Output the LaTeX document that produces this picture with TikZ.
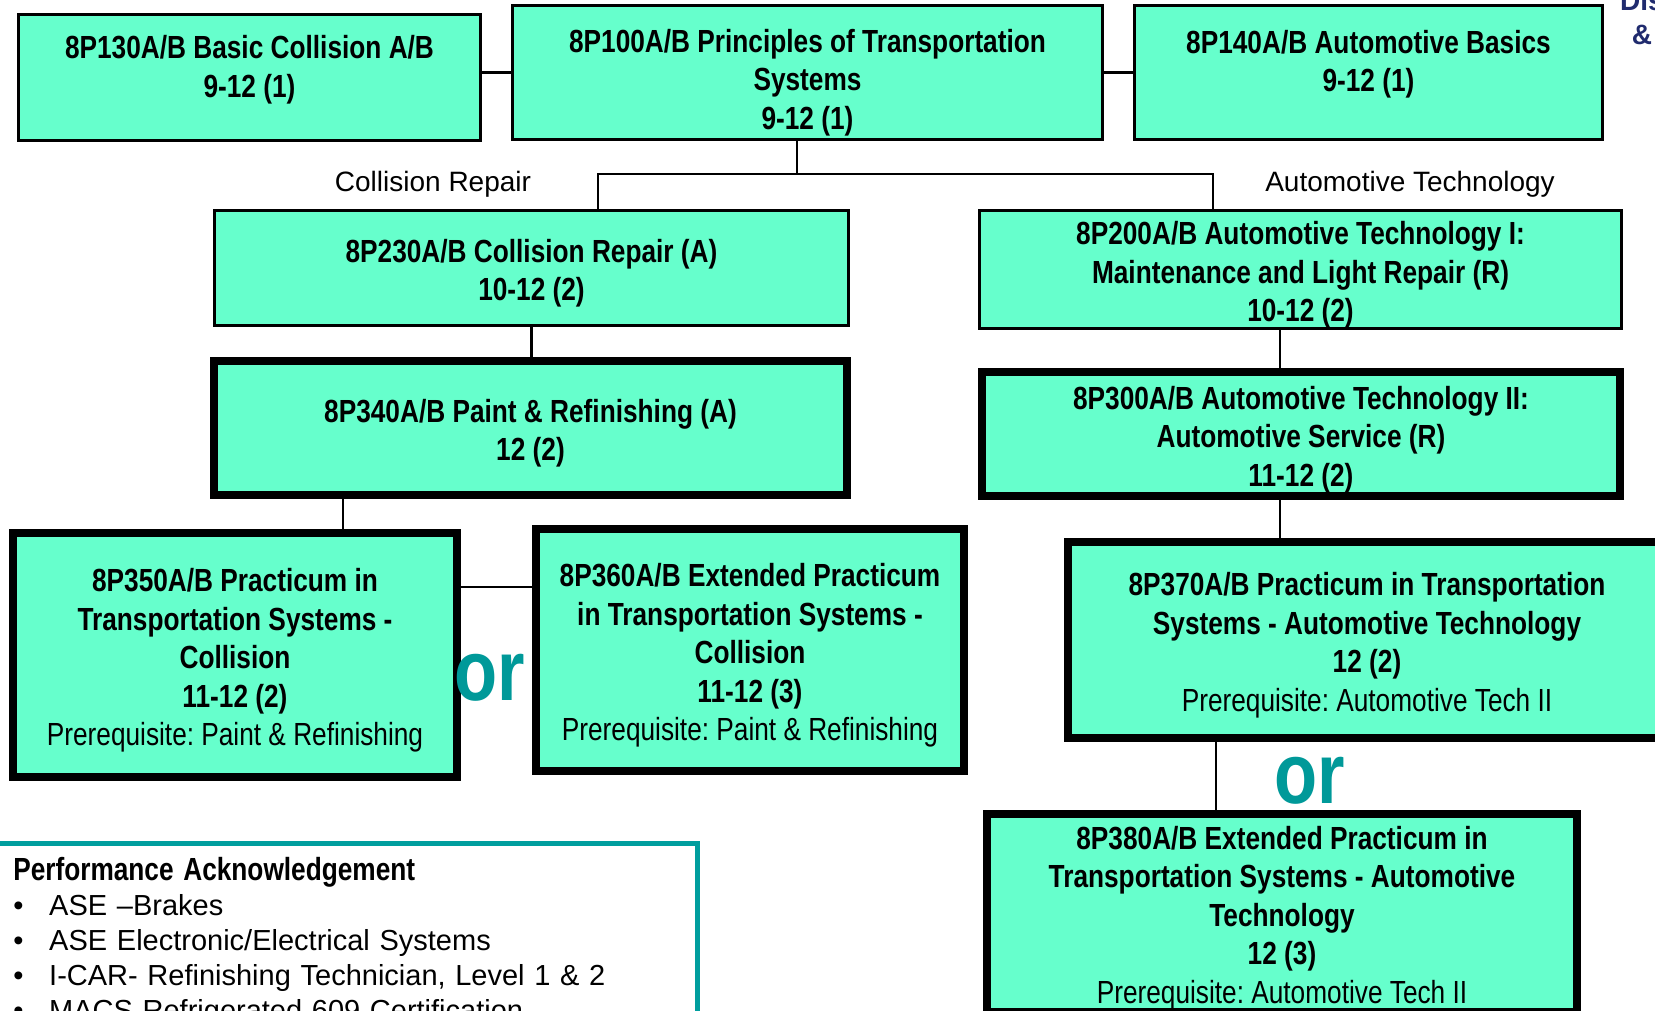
\documentclass[tikz,border=0pt]{standalone}
\usepackage{fontspec}
\setmainfont{Liberation Sans}
\newfontfamily\narrowfont{Liberation Sans}[FakeStretch=0.82]
\frenchspacing
\definecolor{courseGreen}{RGB}{102,255,204}
\definecolor{orTeal}{RGB}{0,153,153}
\definecolor{paTeal}{RGB}{0,158,158}
\definecolor{titleNavy}{RGB}{32,43,110}
\newcommand{\perfItem}[1]{\makebox[36pt][l]{•}#1}
\newcommand{\boxstrut}{\rule{0pt}{34pt}}

\begin{document}
\begin{tikzpicture}[x=1pt, y=-1pt]
            % Set primary nodes
            \tikzset{
                courseNode/.style={
                        draw,
                        rectangle,
                        fill=courseGreen,
                        line width=3pt,
                        align=center,
                        inner sep=0pt,
                        font=\narrowfont\bfseries\fontsize{32}{38.5}\selectfont
                    }
            }
            \tikzset{
                capstoneNode/.style={
                        courseNode,
                        line width=8pt
                    }
            }
            \tikzset{
                perfNode/.style={
                        draw=paTeal,
                        rectangle,
                        line width=4.5pt,
                        align=left,
                        text width=663pt,
                        inner xsep=21pt,
                        inner ysep=14pt,
                        font=\fontsize{29}{35}\selectfont
                    }
            }
            \tikzset{
                trackLabel/.style={
                        font=\fontsize{28}{34}\selectfont
                    }
            }
            \tikzset{
                orLabel/.style={
                        text=orTeal,
                        inner sep=0pt,
                        font=\narrowfont\bfseries\fontsize{86}{86}\selectfont
                    }
            }
            % Configure lines
            \tikzset{link/.style={line width=2.5pt}}
            \useasboundingbox (0,0) rectangle (1655,1011);
            \clip (0,0) rectangle (1655,1011);
            % Placing nodes
            \node[courseNode, minimum width=462pt, minimum height=126pt, text depth=33pt](c130) at (249.5,77.5){\boxstrut 8P130A/B Basic Collision A/B\\9-12 (1)};
            \node[courseNode, minimum width=590pt, minimum height=134pt, text height=120pt](c100) at (807.5,72.5){8P100A/B Principles of Transportation\\Systems\\9-12 (1)};
            \node[courseNode, minimum width=468pt, minimum height=134pt, text depth=34pt](c140) at (1368.5,72.5){\boxstrut 8P140A/B Automotive Basics\\9-12 (1)};
            \node[trackLabel](colLabel) at (433,184.5){Collision Repair};
            \node[trackLabel](autoLabel) at (1410,184.5){Automotive Technology};
            \node[courseNode, minimum width=634pt, minimum height=115pt](c230) at (531.5,268){\boxstrut 8P230A/B Collision Repair (A)\\10-12 (2)};
            \node[courseNode, minimum width=642pt, minimum height=116pt](c200) at (1300.5,269.5){\boxstrut 8P200A/B Automotive Technology I:\\Maintenance and Light Repair (R)\\10-12 (2)};
            \node[capstoneNode, minimum width=633pt, minimum height=134pt](c340) at (530.5,428){\boxstrut 8P340A/B Paint \& Refinishing (A)\\12 (2)};
            \node[capstoneNode, minimum width=638pt, minimum height=124pt](c300) at (1301,434){\boxstrut 8P300A/B Automotive Technology II:\\Automotive Service (R)\\11-12 (2)};
            \node[capstoneNode, minimum width=444pt, minimum height=244pt](c350) at (235,655){\boxstrut 8P350A/B Practicum in\\Transportation Systems -\\Collision\\11-12 (2)\\{\mdseries Prerequisite: Paint \& Refinishing}};
            \node[capstoneNode, minimum width=428pt, minimum height=242pt](c360) at (750,650){\boxstrut 8P360A/B Extended Practicum\\in Transportation Systems -\\Collision\\11-12 (3)\\{\mdseries Prerequisite: Paint \& Refinishing}};
            \node[capstoneNode, minimum width=598pt, minimum height=196pt](c370) at (1367,640){\boxstrut 8P370A/B Practicum in Transportation\\Systems - Automotive Technology\\12 (2)\\{\mdseries Prerequisite: Automotive Tech II}};
            \node[capstoneNode, minimum width=590pt, minimum height=198pt](c380) at (1282,912.5){\boxstrut 8P380A/B Extended Practicum in\\Transportation Systems - Automotive\\Technology\\12 (3)\\{\mdseries Prerequisite: Automotive Tech II}};
            \node[orLabel](orCol) at (490,678){or};
            \node[orLabel](orAuto) at (1310,781){or};
            \node[perfNode, anchor=north west](perf) at (-10,841){{\narrowfont\bfseries\fontsize{32}{35}\selectfont Performance Acknowledgement}\\
                \perfItem{ASE –Brakes}\\
                \perfItem{ASE Electronic/Electrical Systems}\\
                \perfItem{I-CAR- Refinishing Technician, Level 1 \& 2}\\
                \perfItem{MACS Refrigerated 609 Certification}};
            \node[align=center, anchor=north, inner sep=0pt, text=titleNavy, font=\bfseries\fontsize{28}{34}\selectfont](dis) at (1642,-10){Dis\\\&};
            % Branch points
            \coordinate (trunk) at (797,174);
            \coordinate (colBranch) at (598,174);
            \coordinate (autoBranch) at (1213,174);
            \coordinate (colDrop) at (343,0);
            \coordinate (orLink) at (0,587);
            \coordinate (autoDrop) at (1280,0);
            \coordinate (capDrop) at (1216,0);
            % Draw lines
            \draw[link](c100.west -| c130.east) -- (c100.west);
            \draw[link](c100.east) -- (c140.west);
            \draw[link](c100.south -| trunk) -- (trunk);
            \draw[link](colBranch |- c230.north) |- (autoBranch) -- (autoBranch |- c200.north);
            \draw[link](c230.south) -- (c230.south |- c340.north);
            \draw[link](c340.south -| colDrop) -- (c350.north -| colDrop);
            \draw[link](c350.east |- orLink) -- (c360.west |- orLink);
            \draw[link](c200.south -| autoDrop) -- (c300.north -| autoDrop);
            \draw[link](c300.south -| autoDrop) -- (c370.north -| autoDrop);
            \draw[link](c370.south -| capDrop) -- (c380.north -| capDrop);
        \end{tikzpicture}
\end{document}
